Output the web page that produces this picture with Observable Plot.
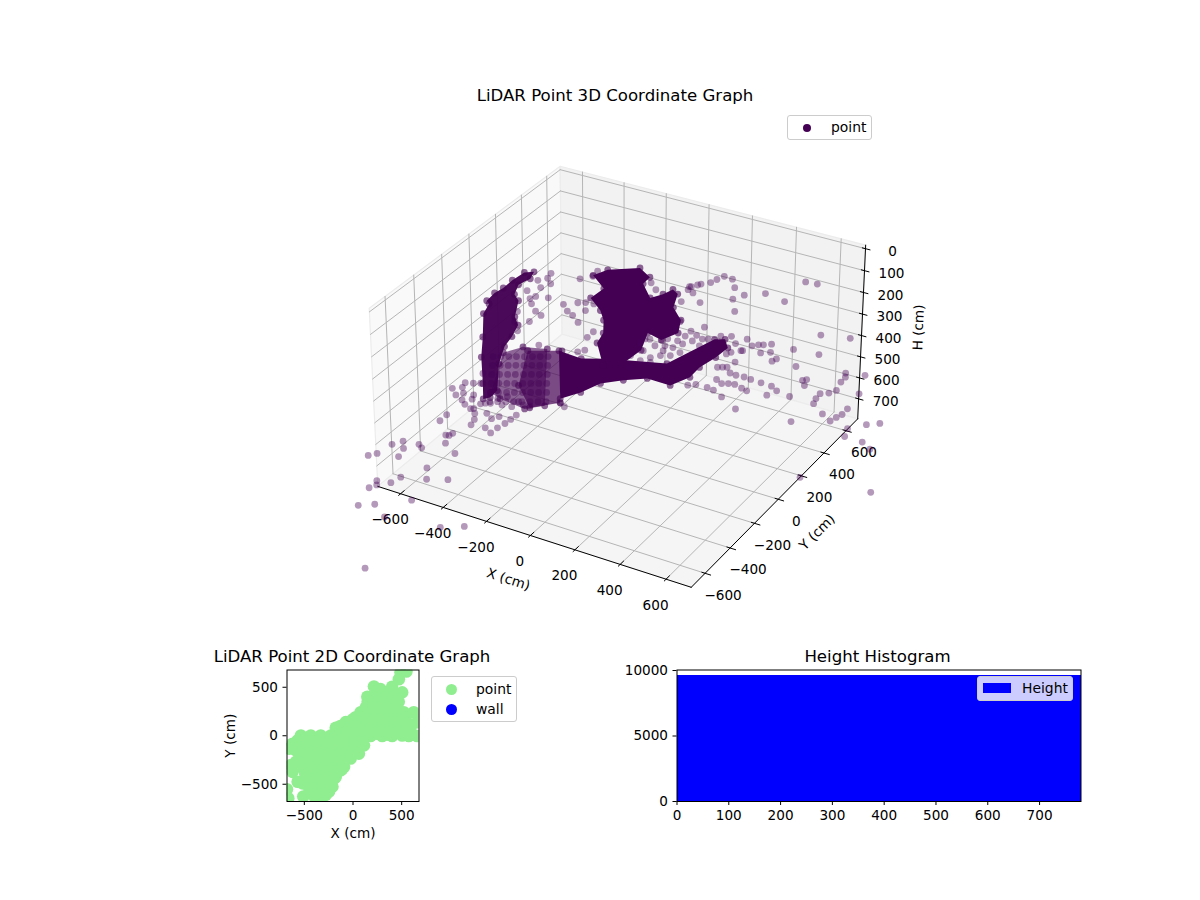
<!DOCTYPE html>
<html><head><meta charset="utf-8">
<script src="https://cdn.jsdelivr.net/npm/d3@7"></script>
<script src="https://cdn.jsdelivr.net/npm/@observablehq/plot@0.6"></script>
<style>
body{margin:0;background:#fff;font-family:"DejaVu Sans",sans-serif;color:#000}
#page{position:relative;width:1200px;height:900px;overflow:hidden}
#page svg{position:absolute;font-family:"DejaVu Sans",sans-serif}
.title{position:absolute;font-size:16.6px;transform:translate(-50%,-50%);white-space:nowrap}
.legend{position:absolute;background:#fff;border:1px solid #ccc;border-radius:3px;box-sizing:border-box;font-size:13.9px}
.legend span{position:absolute;white-space:nowrap;line-height:16px}
.legend i{position:absolute;display:block}
</style></head><body><div id="page"></div>
<script>
// axis ticks and limits (cm)
const xyTicks3d=[-600,-400,-200,0,200,400,600];
const hTicks=[0,100,200,300,400,500,600,700];
const xyLimit=680, hLimit=780;
const ticks2d=[-500,0,500];
const histXTicks=[0,100,200,300,400,500,600,700];
const histYTicks=[0,5000,10000];

// 3D LiDAR points, grouped by their estimated height
const frontH=700;
const frontX=[-782,-760,-747,-722,-690,-673,-654,-630,-529,-484,-410,-492,-567,-600,-587,-583,-681,-683,-555,-566,-590,-664,-625,-614,-548,-509,-491,-493,-453,-450,-442,-439,-437,-580,-591,-630,-647,-644,-609,-558,-451,-475,-250,-174,-341];
const frontY=[-660,-630,-543,-501,-546,-607,-489,-506,-622,-693,-654,-476,-429,-376,-372,-351,-294,-241,-258,-216,-175,-134,-152,-145,-150,-176,-147,-249,-272,-225,-181,-142,-102,-731,-784,-825,-799,-857,-983,-945,-849,-1001,-955,-904,-1330];
const fringeH=600;
const fringeX=[-684,-663,-653,-632,-606,-641,-643,-624,-600,-581,-568,-519,-505,-487,-482,-456,-396,-366,-339,-243,-216,-440,-399,
 -678,-651,-622,-595,-566,-538,-510,-482,-642,-615,-586,-559,-530,-502,-474,-446,-605,-578,-549,-522,-493,-465,-437,-409,-569,-542,-513,-486,-457,-429,-401,-373,-532,-505,-476,-449,-420,-392,-364,-336,-496,-469,-440,-413,-384,-356,-328,-300];
const fringeY=[-192,-128,-165,-115,-100,-28,-229,-202,-250,-193,-225,-239,-225,-215,-167,-136,-148,-160,-154,-75,-90,-203,-195,
 110,126,142,158,174,191,207,223,47,63,79,95,111,128,144,160,-17,-1,15,31,47,64,80,96,-80,-64,-48,-32,-16,1,17,33,-142,-126,-110,-94,-78,-61,-45,-29,-206,-190,-174,-158,-142,-125,-109,-93];
const upperH=200;
const upperX=[-476,-451,-461,-416,-434,-468,-413,-423,-363,-395,-350,-313,-327,-411,-376,-328,-197,-335,-283,-241,-205,-157,-240,-181,-214,-180,-307,-301,-67,-65,-22,-39,-69,-24,112,181,335,281,305,372,469,467,516,242,200,160,147,138,110,102,81,88,118,87];
const upperY=[143,178,221,144,96,47,23,-4,38,-38,-81,-100,-165,-119,-196,-252,-307,239,22,-18,-37,-76,62,22,79,86,332,284,-110,-160,-252,-277,353,312,277,307,312,397,449,504,483,672,679,486,545,550,511,475,445,431,402,377,363,406];
const midH=400;
const midX=[125,94,130,165,185,17,33,30,-18,564,679,522,629,453,426,400,383,322,256,218,350,364,421,498,491,593,298,344,316,306,367,359,5,57,74,34,96,115,137,28,84,118,26,43,-36,61,85,93,181,215,-37,-19,76,140];
const midY=[452,395,377,361,372,442,375,273,255,630,665,470,484,403,464,443,433,451,440,420,359,413,379,368,343,353,396,356,324,303,263,211,160,126,200,85,241,287,328,17,160,180,218,293,247,238,299,348,307,327,209,100,92,220];
const rightH=700;
const rightX=[647,569,583,585,599,582,553,556,566,441,453,467,692,634,686,695,705,704,551,310,369,455,388,352,302,252,219,183,153,85,103,281,253,214,188,164,130,160,127,75,49,215];
const rightY=[894,871,840,794,724,689,667,623,582,728,742,694,746,527,493,530,563,614,410,385,547,584,598,621,624,627,631,627,631,647,658,537,545,558,551,537,556,473,480,478,456,442];
const floorH=790;
const floorX=[711,728,764,809,860,713,1005,807];
const floorY=[608,547,675,544,510,179,219,712];

// dense parts of the cloud, outlines
const columnH=300;
const columnX=[-625,-657,-664,-661,-669,-662,-639,-616,-516,-435,-319,-256,-239,-243,-347,-400,-417,-445,-492,-550,-593,-621,-607];
const columnY=[354,330,247,172,118,47,28,-51,-214,-353,-525,-622,-599,-542,-363,-237,-154,-62,-11,111,149,226,295];
const moundH=200;
const moundX=[-304,-277,-171,-97,-93,-10,19,34,70,109,185,226,196,123,167,157,99,-9,-28,-79,-130,-216,-210];
const moundY=[291,362,441,392,330,241,294,349,324,218,143,47,-35,-13,-143,-285,-319,-180,-100,-10,52,122,216];
const ridgeH=600;
const ridgeX=[-468,-355,-261,-29,44,82,126,121,102,107,69,-39,-116,-184,-217,-263];
const ridgeY=[287,277,331,418,694,716,658,562,457,367,270,272,210,142,40,-44];
const latticeX=[-659,-614,-518,-288,-345,-473,-532];
const latticeY=[158,240,276,-123,-184,-165,-142];
const shoulderX=[-580,-457,-247,-332,-464];
const shoulderY=[223,293,-71,-166,-38];

// 2D panel points (cm)
const flatX=[488,549,471,402,505,436,215,283,147,351,215,351,385,78,215,351,-58,78,215,351,419,522,624,539,658,488,402,590,505,573,658,402,300,181,-535,-433,-331,-228,-126,-24,78,-177,-75,27,147,283,113,249,368,113,61,-24,-92,-126,-177,-211,-280,-365,-314,-382,-621,-655,-587,-535,-587,-638,-621,-569,-518,-450,-511,-665,-679,-535,-433,-331,-228,-126,-24,78,-501,-399,-297,-194,-92,10,-484,-382,-280,-177,-467,-365,-263,-160,-433,-331,-228,-399,-297,-365,-246,-569,-440,-340,-240,-140,-40,-450,-350,-250,-150,-430,-330,-230,-415,-315,-215,-350,-250,-310,
200,270,340,410,150,250,320,400,470,130,200,280,360,440,0,80,150,220,290,360,430,480,-100,0,60,150,230,320,420,530,-500,-400,-300,-200,-100,0,100,170,240,310,380,450,520,590,-130,-60,20,90,560,
-480,-380,-280,-180,-80,20,-540,-450,-350,-250,-150,-50,-520,-430,-330,-230,-130,-510,-410,-310,-210,-110,-490,-380,-280,-180,-470,-370,-270,-190,-420,-330,-260,-420,-340,-280];
const flatY=[651,662,583,505,447,413,508,481,402,430,327,327,327,242,225,225,140,123,106,123,242,242,242,184,140,89,72,72,3,-3,-3,-3,-3,-3,3,3,3,3,3,3,3,82,140,191,242,89,55,20,10,-99,-184,-235,-321,-355,-423,-525,-610,-627,-621,-655,-82,-133,-150,-218,-269,-303,-372,-474,-491,-542,-627,-645,-552,-82,-82,-82,-82,-82,-82,-82,-167,-167,-167,-167,-167,-167,-252,-252,-252,-252,-338,-338,-338,-338,-423,-423,-423,-508,-508,-576,-576,-48,-125,-125,-125,-125,-125,-210,-210,-210,-210,-295,-295,-295,-380,-380,-380,-465,-465,-545,
400,400,400,400,350,350,350,350,350,290,290,290,290,290,170,170,170,170,170,170,170,170,60,60,60,60,60,60,60,60,-40,-40,-40,-40,-40,-40,-40,30,30,30,30,30,30,30,100,60,100,60,130,
-60,-60,-60,-60,-60,-60,-190,-190,-190,-190,-190,-190,-270,-270,-270,-270,-270,-340,-340,-340,-340,-340,-400,-400,-400,-400,-440,-440,-440,-440,-540,-540,-540,-600,-600,-600];

// height histogram
const binStarts=[0,60,120,180,240,300,360,420,480,540,600,660,720];
const binCounts=[9620,9620,9620,9620,9620,9620,9620,9620,9620,9620,9620,9620,9620];
const binWidth=60;

// ---------- 3D view ----------
const view={elev:30,azim:-60,dist:10,half:4/7,zHalf:0.325,scale:3000,cx:621.7,cy:365};
const e=view.elev*Math.PI/180,a=view.azim*Math.PI/180;
const w=[Math.cos(e)*Math.cos(a),Math.cos(e)*Math.sin(a),Math.sin(e)];
const un=Math.hypot(w[0],w[1]);
const u=[-w[1]/un,w[0]/un,0];
const v=[w[1]*u[2]-w[2]*u[1],w[2]*u[0]-w[0]*u[2],w[0]*u[1]-w[1]*u[0]];
function proj(X,Y,H){
  const n=[X/xyLimit*view.half,Y/xyLimit*view.half,(hLimit/2-H)/(hLimit/2)*view.zHalf];
  const dot=(p,q)=>p[0]*q[0]+p[1]*q[1]+p[2]*q[2];
  const d=view.dist-dot(w,n);
  return {px:dot(u,n)/d,py:dot(v,n)/d};
}
const pad=1/24;
const xyEdge=xyLimit*(1+pad);
const hTop=hLimit/2-hLimit/2*(1+pad), hBottom=hLimit/2+hLimit/2*(1+pad);
let kid=0;
const seg=(A,B)=>{const k=kid++;return [{...proj(...A),k},{...proj(...B),k}]};
const poly=(cs)=>cs.map(c=>proj(...c));

const panes=[
  {fill:"#f9f9f9",c:[[-xyEdge,-xyEdge,hBottom],[-xyEdge,xyEdge,hBottom],[-xyEdge,xyEdge,hTop],[-xyEdge,-xyEdge,hTop]]},
  {fill:"#f2f2f2",c:[[-xyEdge,xyEdge,hBottom],[xyEdge,xyEdge,hBottom],[xyEdge,xyEdge,hTop],[-xyEdge,xyEdge,hTop]]},
  {fill:"#f5f5f5",c:[[-xyEdge,-xyEdge,hBottom],[xyEdge,-xyEdge,hBottom],[xyEdge,xyEdge,hBottom],[-xyEdge,xyEdge,hBottom]]}
];
const grid=[];
for(const t of xyTicks3d){
  grid.push(...seg([t,-xyEdge,hBottom],[t,xyEdge,hBottom]),...seg([t,xyEdge,hBottom],[t,xyEdge,hTop]));
  grid.push(...seg([-xyEdge,t,hBottom],[xyEdge,t,hBottom]),...seg([-xyEdge,t,hBottom],[-xyEdge,t,hTop]));
}
for(const t of hTicks){
  grid.push(...seg([-xyEdge,-xyEdge,t],[-xyEdge,xyEdge,t]),...seg([-xyEdge,xyEdge,t],[xyEdge,xyEdge,t]));
}
const axisLines=[
  ...seg([-xyEdge,-xyEdge,hBottom],[xyEdge,-xyEdge,hBottom]),
  ...seg([xyEdge,-xyEdge,hBottom],[xyEdge,xyEdge,hBottom]),
  ...seg([xyEdge,xyEdge,hBottom],[xyEdge,xyEdge,hTop])
];
const tickMarks=[];
for(const t of xyTicks3d){
  tickMarks.push(...seg([t,-xyEdge-14,hBottom],[t,-xyEdge+26,hBottom]));
  tickMarks.push(...seg([xyEdge-14,t,hBottom],[xyEdge+24,t,hBottom]));
}
for(const t of hTicks) tickMarks.push(...seg([xyEdge-14,xyEdge,t],[xyEdge+20,xyEdge,t]));
const fmt=d=>d<0?"\u2212"+(-d):String(d);
const xLabels=xyTicks3d.map(t=>({...proj(t,-xyEdge,hBottom),t:fmt(t)}));
const yLabels=xyTicks3d.map(t=>({...proj(xyEdge,t,hBottom),t:fmt(t)}));
const hLabels=hTicks.map(t=>({...proj(xyEdge,xyEdge,t),t:fmt(t)}));

const groupPts=(xs,ys,h)=>xs.map((x,i)=>proj(x,ys[i],h));
const cloud=[...groupPts(frontX,frontY,frontH),...groupPts(fringeX,fringeY,fringeH),...groupPts(upperX,upperY,upperH),...groupPts(midX,midY,midH),...groupPts(rightX,rightY,rightH),...groupPts(floorX,floorY,floorH)];
const column=groupPts(columnX,columnY,columnH),mound=groupPts(moundX,moundY,moundH),ridge=groupPts(ridgeX,ridgeY,ridgeH),lattice=groupPts(latticeX,latticeY,ridgeH),shoulder=groupPts(shoulderX,shoulderY,ridgeH);
const violet="#440154",gridGrey="#b5b5b5";
const W=1200,H3=640;
const main=Plot.plot({
  width:W,height:H3,margin:0,
  x:{axis:null,domain:[-view.cx/view.scale,(W-view.cx)/view.scale],range:[0,W]},
  y:{axis:null,domain:[view.cy/view.scale,(view.cy-H3)/view.scale],range:[0,H3]},
  marks:[
    ...panes.map(p=>Plot.line(poly(p.c).concat(poly(p.c).slice(0,1)),{x:"px",y:"py",fill:p.fill,stroke:"#ececec",strokeWidth:1.2})),
    Plot.line(grid,{x:"px",y:"py",z:"k",stroke:gridGrey,strokeWidth:1}),
    Plot.line(axisLines,{x:"px",y:"py",z:"k",stroke:"#000",strokeWidth:1}),
    Plot.line(tickMarks,{x:"px",y:"py",z:"k",stroke:"#000",strokeWidth:1}),
    Plot.text(xLabels,{x:"px",y:"py",text:"t",dx:-10.5,dy:26,fontSize:13.6,fill:"#000"}),
    Plot.text(yLabels,{x:"px",y:"py",text:"t",dx:18,dy:22,fontSize:13.6,fill:"#000"}),
    Plot.text(hLabels,{x:"px",y:"py",text:"t",dx:27,dy:3,fontSize:13.6,fill:"#000"}),
    Plot.text([proj(0,-xyEdge,hBottom)],{x:"px",y:"py",text:()=>"X (cm)",dx:-22,dy:44,rotate:18,fontSize:13.6,fill:"#000"}),
    Plot.text([proj(xyEdge,0,hBottom)],{x:"px",y:"py",text:()=>"Y (cm)",dx:39,dy:33,rotate:-45,fontSize:13.6,fill:"#000"}),
    Plot.text([proj(xyEdge,xyEdge,hLimit/2)],{x:"px",y:"py",text:()=>"H (cm)",dx:57,dy:-6,rotate:-88,fontSize:13.6,fill:"#000"}),
    Plot.line(lattice.concat(lattice.slice(0,1)),{x:"px",y:"py",fill:violet,fillOpacity:0.6,stroke:"none"}),
    Plot.line(shoulder.concat(shoulder.slice(0,1)),{x:"px",y:"py",fill:violet,fillOpacity:0.7,stroke:"none"}),
    Plot.line(column.concat(column.slice(0,1)),{x:"px",y:"py",fill:violet,fillOpacity:0.97,stroke:"none"}),
    Plot.line(ridge.concat(ridge.slice(0,1)),{x:"px",y:"py",fill:violet,stroke:"none"}),
    Plot.line(mound.concat(mound.slice(0,1)),{x:"px",y:"py",fill:violet,stroke:"none"}),
    Plot.dot([...column,...mound,...ridge,...lattice,...shoulder],{x:"px",y:"py",r:3.4,fill:violet,fillOpacity:0.6,stroke:"none"}),
    Plot.dot(cloud,{x:"px",y:"py",r:3.4,fill:violet,fillOpacity:0.4,stroke:"none"})
  ]
});
main.style.left="0";main.style.top="0";

// ---------- 2D panel ----------
const flat=flatX.map((x,i)=>({x,y:flatY[i]}));
const flatPlot=Plot.plot({
  width:240,height:200,marginLeft:86.5,marginRight:21.5,marginTop:19.5,marginBottom:49,
  style:{fontSize:"13.6px",color:"#000",background:"transparent"},
  x:{domain:[-678,678],ticks:ticks2d,tickFormat:fmt,label:"X (cm)",labelAnchor:"center",labelArrow:"none",tickSize:4,labelOffset:36},
  y:{domain:[-678,678],ticks:ticks2d,tickFormat:fmt,label:"Y (cm)",labelAnchor:"center",labelArrow:"none",tickSize:4,labelOffset:62},
  marks:[
    Plot.dot(flat,{x:"x",y:"y",r:6.3,fill:"#90ee90",clip:true}),
    Plot.frame({stroke:"#000"})
  ]
});
flatPlot.style.left="200px";flatPlot.style.top="650px";

// ---------- histogram ----------
const bins=binStarts.map((s,i)=>({x1:s,x2:s+binWidth,c:binCounts[i]}));
const histPlot=Plot.plot({
  width:480,height:200,marginLeft:56.5,marginRight:19.5,marginTop:19.5,marginBottom:49,
  style:{fontSize:"13.6px",color:"#000",background:"transparent"},
  x:{domain:[0,hLimit],ticks:histXTicks,label:null,tickSize:4},
  y:{domain:[0,10040],ticks:histYTicks,tickFormat:String,label:null,tickSize:4},
  marks:[
    Plot.rectY(bins,{x1:"x1",x2:"x2",y:"c",fill:"#0000ff",shapeRendering:"crispEdges"}),
    Plot.frame({stroke:"#000"})
  ]
});
histPlot.style.left="620px";histPlot.style.top="650px";

// ---------- page text ----------
const page=document.getElementById("page");
page.append(main,flatPlot,histPlot);
const title=(t,x,y)=>{const d=document.createElement("div");d.className="title";d.textContent=t;d.style.left=x+"px";d.style.top=y+"px";page.append(d)};
title("LiDAR Point 3D Coordinate Graph",615,95);
title("LiDAR Point 2D Coordinate Graph",352,656);
title("Height Histogram",877.5,656);
function legend(x,y,w,h,items,bg){
  const d=document.createElement("div");d.className="legend";
  Object.assign(d.style,{left:x+"px",top:y+"px",width:w+"px",height:h+"px"});
  if(bg)d.style.background=bg;
  for(const it of items){
    const m=document.createElement("i");
    Object.assign(m.style,{left:it.mx+"px",top:it.my+"px",width:it.mw+"px",height:it.mh+"px",background:it.c,borderRadius:it.round?"50%":"0"});
    const s=document.createElement("span");s.textContent=it.t;
    Object.assign(s.style,{left:it.tx+"px",top:it.ty+"px"});
    d.append(m,s);
  }
  page.append(d);
}
legend(787,115,85,25,[{c:"#440154",round:1,mx:15,my:8,mw:8,mh:8,t:"point",tx:43,ty:3}]);
legend(431,676,86,46,[{c:"#90ee90",round:1,mx:14,my:7,mw:11,mh:11,t:"point",tx:44,ty:4},{c:"#0000ff",round:1,mx:14,my:27,mw:11,mh:11,t:"wall",tx:44,ty:24}]);
legend(977,676,96,25,[{c:"#0000ff",mx:5,my:6,mw:28,mh:10,t:"Height",tx:44,ty:3}],"#ccccff");
</script></body></html>
